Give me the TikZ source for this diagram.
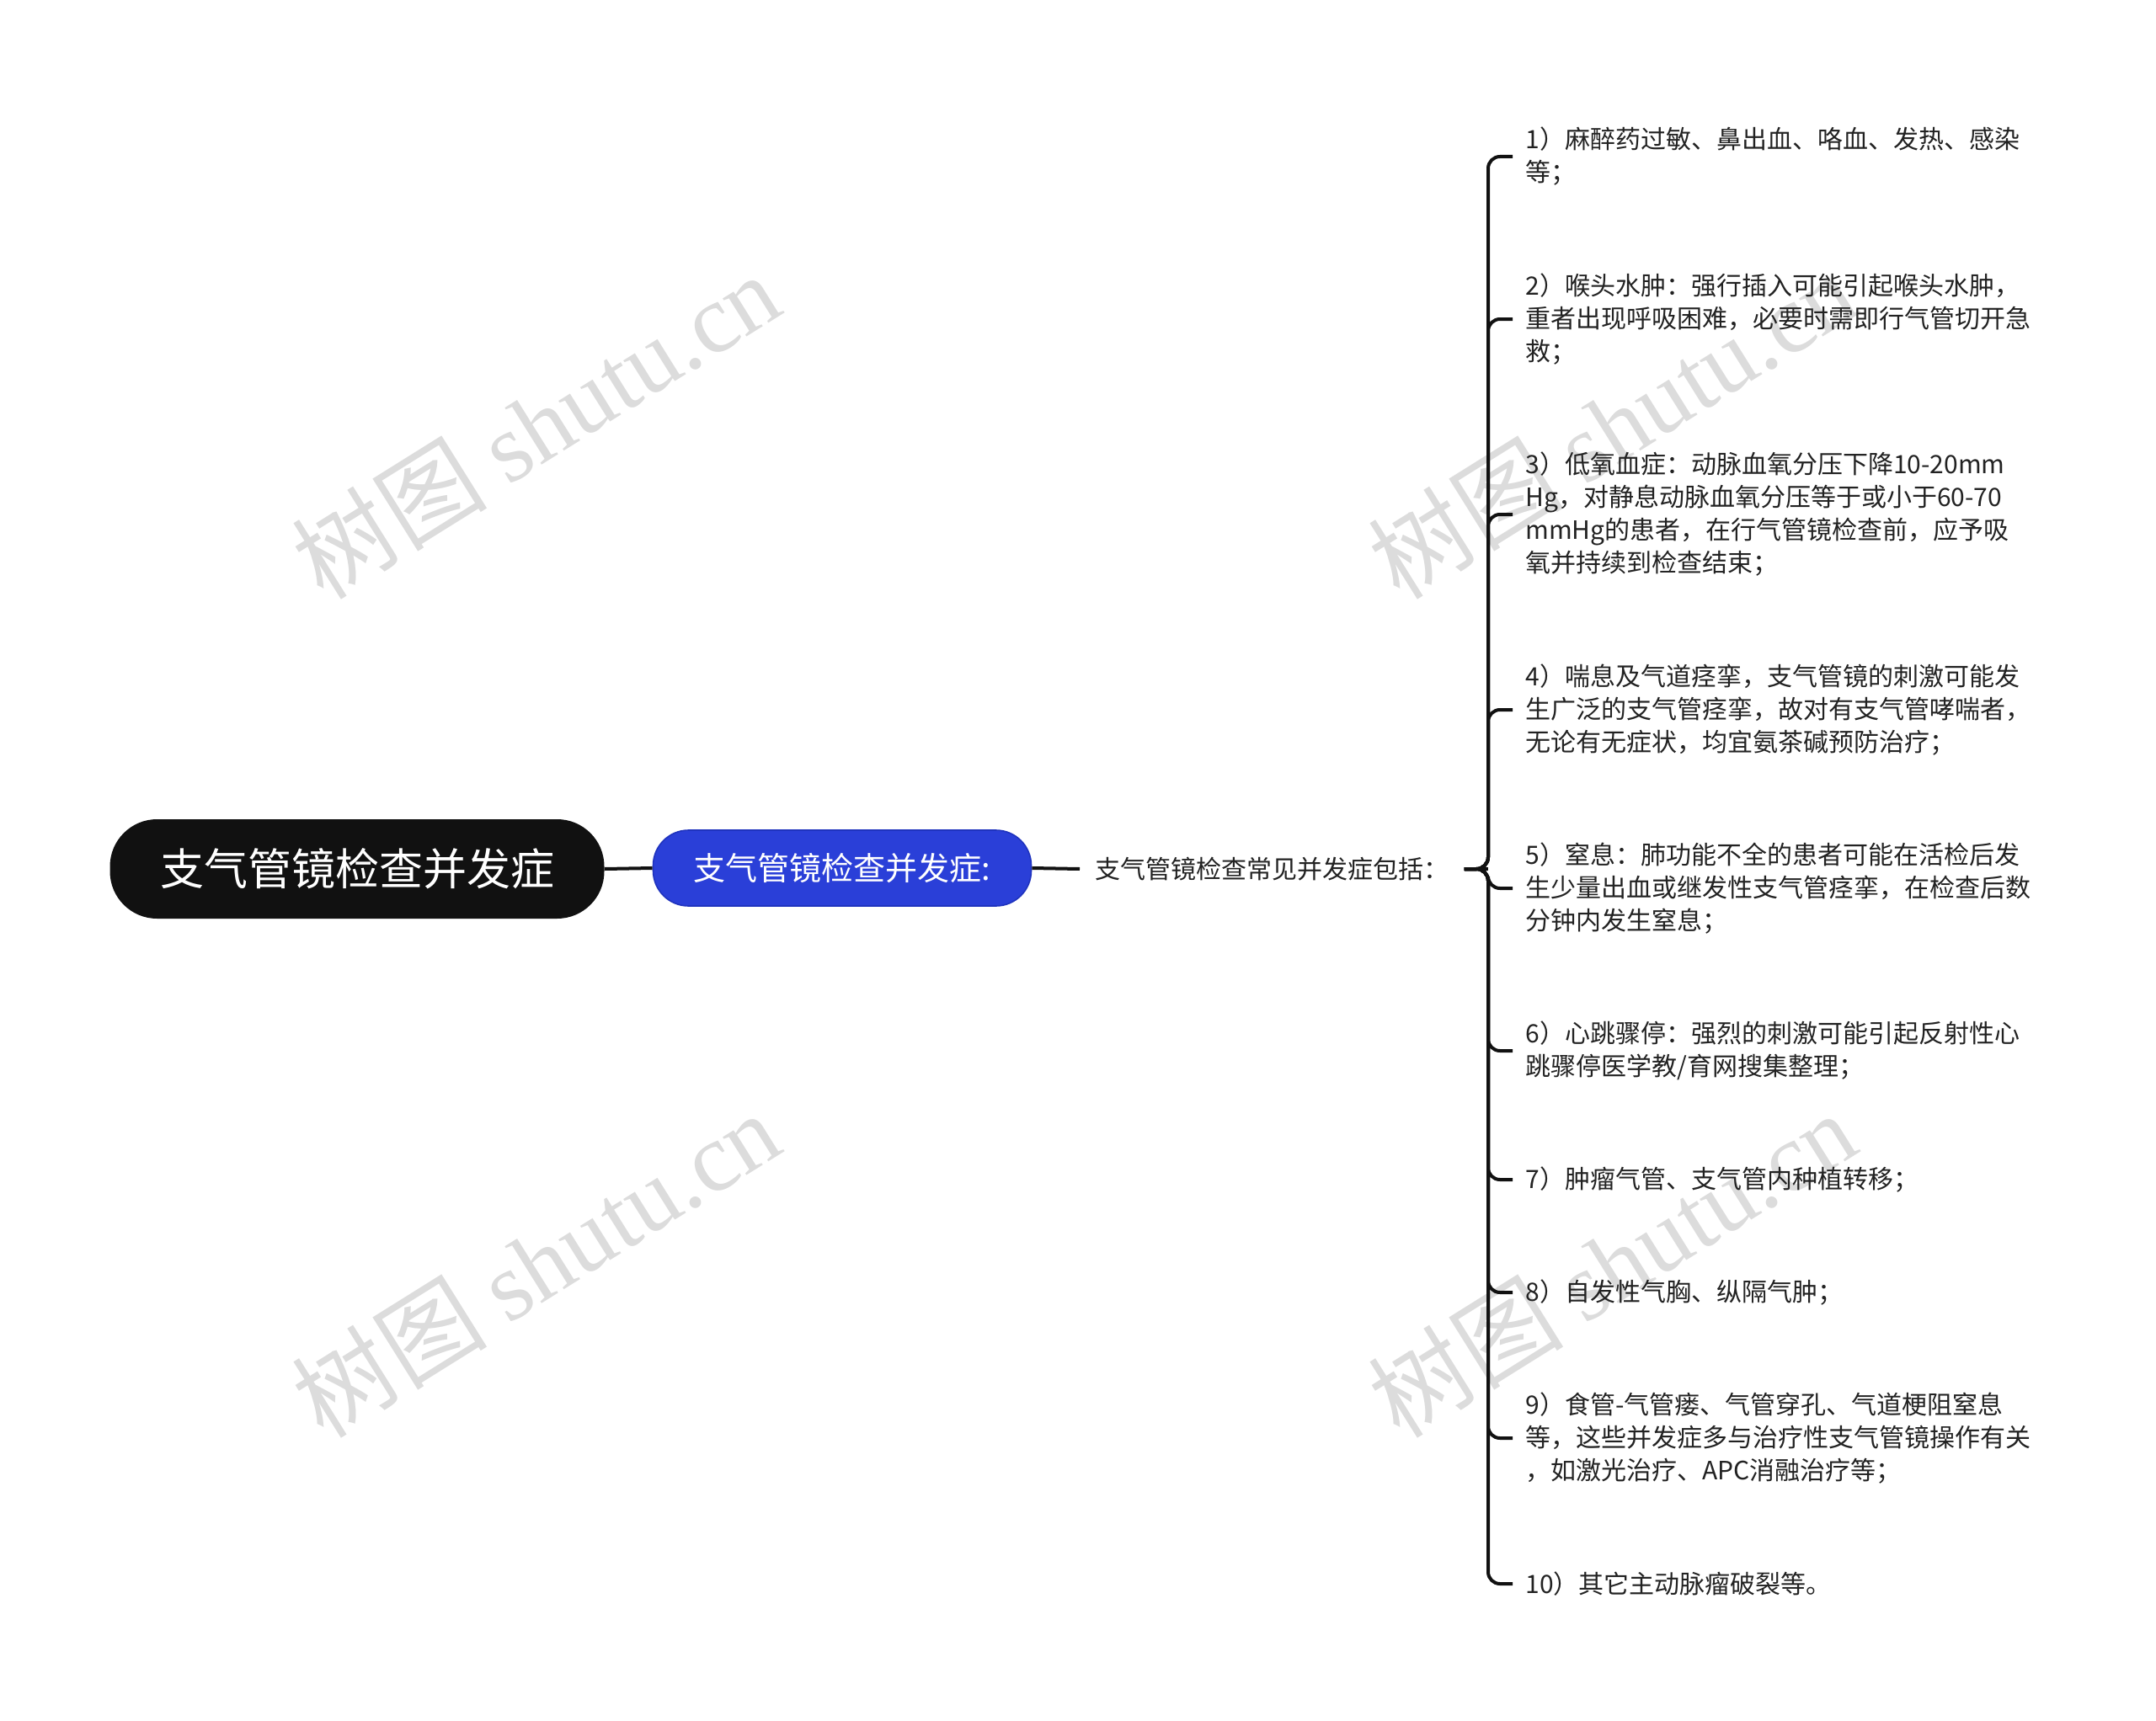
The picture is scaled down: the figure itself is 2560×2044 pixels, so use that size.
\documentclass[tikz,border=0pt]{standalone}
\usepackage{fontspec}
\setmainfont{Noto Sans CJK SC}
\newfontfamily\wmlatin{Liberation Serif}
\definecolor{rootfill}{HTML}{111111}
\definecolor{bluefill}{HTML}{2A3FD8}
\definecolor{blueedge}{HTML}{1F33BE}
\definecolor{txt}{HTML}{222222}
\definecolor{wmgray}{HTML}{DCDCDC}
\begin{document}
\begin{tikzpicture}[x=0.5pt,y=-0.5pt,
  wm/.style={text=wmgray, rotate=32, inner sep=0pt, font=\fontsize{58}{60}\selectfont},
  rootbox/.style={fill=rootfill, text=white, rounded corners=28pt, minimum width=293.5pt, minimum height=59pt, inner sep=0pt, font=\fontsize{26}{30}\selectfont},
  bluebox/.style={fill=bluefill, draw=blueedge, line width=0.8pt, text=white, rounded corners=21pt, minimum width=224.5pt, minimum height=45pt, inner sep=0pt, font=\fontsize{19}{22}\selectfont},
  midlbl/.style={anchor=west, text=txt, inner xsep=9pt, inner ysep=2pt, font=\fontsize{15}{19.5}\selectfont},
  leaf/.style={anchor=west, text=txt, align=left, inner xsep=7.5pt, inner ysep=0pt, font=\fontsize{15}{19.5}\selectfont},
  link/.style={line width=2pt, draw=rootfill},
  brace/.style={line width=2pt, draw=rootfill, rounded corners=7pt}
]
\useasboundingbox (0,0) rectangle (2560,2044);
% watermarks
\node[wm] (wm1) at (636,505) {树图 {\wmlatin shutu.cn}};
\node[wm] (wm2) at (1914,505) {树图 {\wmlatin shutu.cn}};
\node[wm] (wm3) at (636,1501) {树图 {\wmlatin shutu.cn}};
\node[wm] (wm4) at (1914,1501) {树图 {\wmlatin shutu.cn}};

% main nodes
\node[rootbox] (root) at (424,1032) {支气管镜检查并发症};
\node[bluebox] (blue) at (1000,1031) {支气管镜检查并发症:};
\node[midlbl] (mid) at (1282,1032) {支气管镜检查常见并发症包括：};
\coordinate (hub) at (1767,1032);

% leaves
\node[leaf] (c1) at (1796,186) {1）麻醉药过敏、鼻出血、咯血、发热、感染\\等；};
\node[leaf] (c2) at (1796,379) {2）喉头水肿：强行插入可能引起喉头水肿，\\重者出现呼吸困难，必要时需即行气管切开急\\救；};
\node[leaf] (c3) at (1796,611) {3）低氧血症：动脉血氧分压下降10-20mm\\Hg，对静息动脉血氧分压等于或小于60-70\\mmHg的患者，在行气管镜检查前，应予吸\\氧并持续到检查结束；};
\node[leaf] (c4) at (1796,843) {4）喘息及气道痉挛，支气管镜的刺激可能发\\生广泛的支气管痉挛，故对有支气管哮喘者，\\无论有无症状，均宜氨茶碱预防治疗；};
\node[leaf] (c5) at (1796,1055) {5）窒息：肺功能不全的患者可能在活检后发\\生少量出血或继发性支气管痉挛，在检查后数\\分钟内发生窒息；};
\node[leaf] (c6) at (1796,1248) {6）心跳骤停：强烈的刺激可能引起反射性心\\跳骤停医学教/育网搜集整理；};
\node[leaf] (c7) at (1796,1401) {7）肿瘤气管、支气管内种植转移；};
\node[leaf] (c8) at (1796,1535) {8）自发性气胸、纵隔气肿；};
\node[leaf] (c9) at (1796,1708) {9）食管-气管瘘、气管穿孔、气道梗阻窒息\\等，这些并发症多与治疗性支气管镜操作有关\\，如激光治疗、APC消融治疗等；};
\node[leaf] (c10) at (1796,1881) {10）其它主动脉瘤破裂等。};

% connectors
\draw[link] (root.east) -- (blue.west);
\draw[link] (blue.east) -- (mid.west);
\draw[link] (mid.east) -- (hub);
\foreach \c in {c1,c2,c3,c4,c5,c6,c7,c8,c9,c10}
  \draw[brace] (mid.east) -- (hub) |- (\c.west);
\end{tikzpicture}
\end{document}
